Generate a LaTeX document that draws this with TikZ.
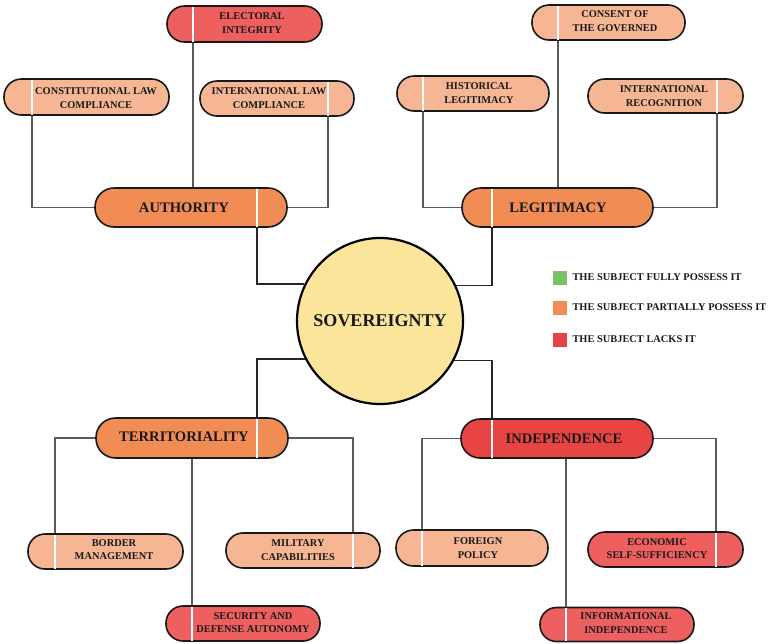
\documentclass[tikz,border=0pt]{standalone}
\usepackage{fontspec}
\setmainfont{Liberation Serif}
\definecolor{mainOr}{HTML}{F28C55}
\definecolor{lightOr}{HTML}{F6B694}
\definecolor{redPill}{HTML}{EE5F5F}
\definecolor{indRed}{HTML}{E94444}
\definecolor{sovY}{HTML}{FAE59A}
\definecolor{legG}{HTML}{78C266}
\definecolor{legO}{HTML}{F58C55}
\definecolor{legR}{HTML}{E64444}
\definecolor{connG}{HTML}{5A5A5A}
\tikzset{
  pillbox/.style 2 args={draw=black!90, line width=1.6pt, inner sep=0pt, minimum width=#1, minimum height=#2, rounded corners=#2/2-0.5pt},
  small/.style={font=\fontsize{10.4}{13.8}\selectfont\bfseries, align=center, text=black!90},
  big/.style={font=\fontsize{14.6}{16}\selectfont\bfseries, text=black!90},
  wline/.style={draw=white, line width=1.3pt, shorten >=1.3pt, shorten <=1.3pt},
  thickconn/.style={draw=black!85, line width=1.6pt},
  thinconn/.style={draw=connG, line width=1.1pt},
  legsq/.style={minimum size=14pt, inner sep=0pt},
  legtxt/.style={font=\fontsize{10.4}{12}\selectfont\bfseries, anchor=west, text=black!90}
}
\begin{document}
\begin{tikzpicture}[x=1pt,y=-1pt]
\useasboundingbox (0,0) rectangle (775,643);
% centre
\node[circle, draw=black, line width=2.2pt, fill=sovY, minimum size=166pt, inner sep=0pt] (sov) at (380,321) {};
\node[font=\fontsize{18}{20}\selectfont\bfseries, text=black!90] (sovT) at (380,321) {SOVEREIGNTY};

% main pills
\node[pillbox={192pt}{39pt}, fill=mainOr] (auth) at (191,207.5) {};
\coordinate (authW) at (257,207.5);
\node[pillbox={191pt}{39pt}, fill=mainOr] (leg) at (557.5,207.5) {};
\coordinate (legW) at (492,207.5);
\node[pillbox={192pt}{40pt}, fill=mainOr] (terr) at (192,438) {};
\coordinate (terrW) at (257,438);
\node[pillbox={192pt}{39pt}, fill=indRed] (ind) at (557,438.5) {};
\coordinate (indW) at (492,438.5);

% authority children
\node[pillbox={155pt}{36pt}, fill=redPill] (elec) at (244.5,24) {};
\coordinate (elecW) at (193,24);
\node[pillbox={165pt}{36pt}, fill=lightOr] (con) at (86.5,97) {};
\coordinate (conW) at (32,97);
\node[pillbox={154pt}{35pt}, fill=lightOr] (intl) at (277,98.5) {};
\coordinate (intlW) at (328,98.5);
% legitimacy children
\node[pillbox={153pt}{35pt}, fill=lightOr] (cons) at (608.5,22.5) {};
\coordinate (consW) at (558,22.5);
\node[pillbox={152pt}{35pt}, fill=lightOr] (hist) at (473,93.5) {};
\coordinate (histW) at (423,93.5);
\node[pillbox={155pt}{34pt}, fill=lightOr] (irec) at (665.5,96) {};
\coordinate (irecW) at (717,96);
% territoriality children
\node[pillbox={155pt}{35pt}, fill=lightOr] (bord) at (105.5,551.5) {};
\coordinate (bordW) at (55,551.5);
\node[pillbox={154pt}{35pt}, fill=lightOr] (mil) at (303,550.5) {};
\coordinate (milW) at (353,550.5);
\node[pillbox={154pt}{35pt}, fill=redPill] (sec) at (243,623.5) {};
\coordinate (secW) at (192,623.5);
% independence children
\node[pillbox={152pt}{36pt}, fill=lightOr] (fp) at (472,548) {};
\coordinate (fpW) at (422,548);
\node[pillbox={155pt}{35pt}, fill=redPill] (eco) at (665.5,549.5) {};
\coordinate (ecoW) at (716,549.5);
\node[pillbox={154pt}{34pt}, fill=redPill] (info) at (617,624.5) {};
\coordinate (infoW) at (566,624.5);

% white divider lines
\foreach \p in {auth,leg,terr,ind,elec,con,intl,cons,hist,irec,bord,mil,sec,fp,eco,info}{
  \draw[wline] (\p W |- \p.north) -- (\p W |- \p.south);
}

% texts
\node[big] (authT) at (184,207.5) {AUTHORITY};
\node[big] (legT) at (558,207.5) {LEGITIMACY};
\node[big] (terrT) at (184,437) {TERRITORIALITY};
\node[big] (indT) at (564,439) {INDEPENDENCE};
\node[small] (elecT) at (252,23) {ELECTORAL\\INTEGRITY};
\node[small] (conT) at (96,98) {CONSTITUTIONAL LAW\\COMPLIANCE};
\node[small] (intlT) at (269,98) {INTERNATIONAL LAW\\COMPLIANCE};
\node[small] (consT) at (615,21.5) {CONSENT OF\\THE GOVERNED};
\node[small] (histT) at (479,93) {HISTORICAL\\LEGITIMACY};
\node[small] (irecT) at (664,96) {INTERNATIONAL\\RECOGNITION};
\node[small] (bordT) at (114,549.5) {BORDER\\MANAGEMENT};
\node[small] (milT) at (298,550.5) {MILITARY\\CAPABILITIES};
\node[small] (secT) at (253,622.5) {SECURITY AND\\DEFENSE AUTONOMY};
\node[small] (fpT) at (478,548) {FOREIGN\\POLICY};
\node[small] (ecoT) at (657,548.5) {ECONOMIC\\SELF-SUFFICIENCY};
\node[small] (infoT) at (626,623) {INFORMATIONAL\\INDEPENDENCE};

% connectors centre -> main
\draw[thickconn] (sov.154.6) -| (authW |- auth.south);
\draw[thickconn] (sov.25.4) -| (legW |- leg.south);
\draw[thickconn] (sov.207.7) -| (terrW |- terr.north);
\draw[thickconn] (sov.332.3) -| (indW |- ind.north);

% connectors main -> children
\draw[thinconn] (elecW |- elec.south) -- (elecW |- auth.north);
\draw[thinconn] (conW |- con.south) |- (auth.west);
\draw[thinconn] (intlW |- intl.south) |- (auth.east);
\draw[thinconn] (consW |- cons.south) -- (consW |- leg.north);
\draw[thinconn] (histW |- hist.south) |- (leg.west);
\draw[thinconn] (irecW |- irec.south) |- (leg.east);
\draw[thinconn] (terr.west) -| (bordW |- bord.north);
\draw[thinconn] (terr.east) -| (milW |- mil.north);
\draw[thinconn] (secW |- terr.south) -- (secW |- sec.north);
\draw[thinconn] (ind.west) -| (fpW |- fp.north);
\draw[thinconn] (ind.east) -| (ecoW |- eco.north);
\draw[thinconn] (infoW |- ind.south) -- (infoW |- info.north);

% legend
\node[legsq, fill=legG] (lg1) at (560,277.5) {};
\node[legsq, fill=legO] (lg2) at (560,308) {};
\node[legsq, fill=legR] (lg3) at (560,339.5) {};
\node[legtxt] (lt1) at (569,277) {THE SUBJECT FULLY POSSESS IT};
\node[legtxt] (lt2) at (569,307.5) {THE SUBJECT PARTIALLY POSSESS IT};
\node[legtxt] (lt3) at (569,339) {THE SUBJECT LACKS IT};
\end{tikzpicture}
\end{document}
